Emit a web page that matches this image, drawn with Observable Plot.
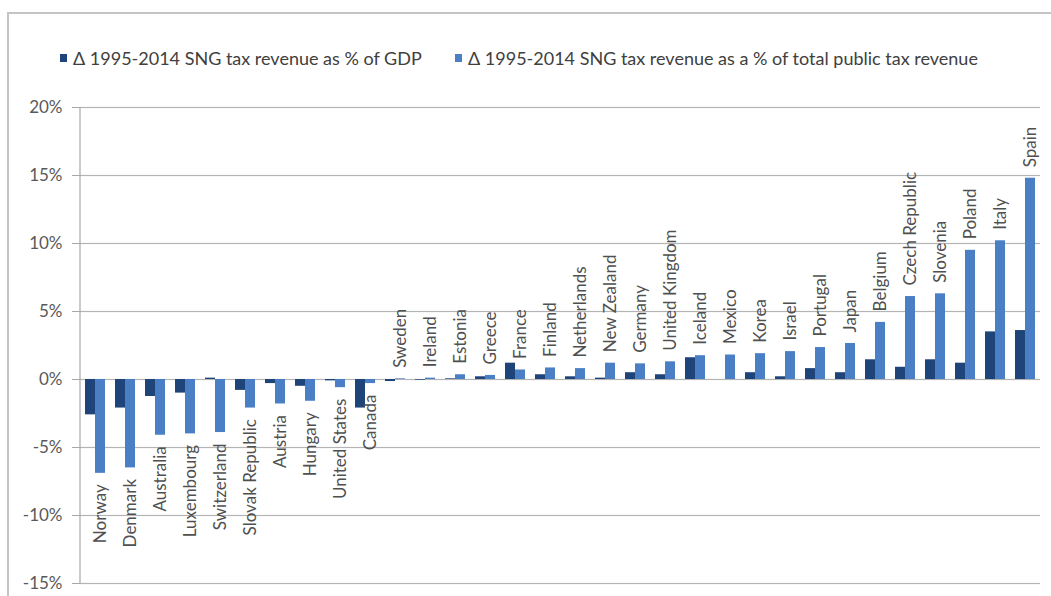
<!DOCTYPE html>
<html>
<head>
<meta charset="utf-8">
<script src="https://cdn.jsdelivr.net/npm/d3@7"></script>
<script src="https://cdn.jsdelivr.net/npm/@observablehq/plot@0.6"></script>
<style>
  html, body { margin: 0; padding: 0; background: #fff; }
  #wrap { position: relative; width: 1051px; height: 596px; overflow: hidden; font-family: Lato, "Open Sans", sans-serif; }
  #frame { position: absolute; left: 7px; top: 12px; right: -10px; bottom: -10px; border-top: 2px solid #c4c4c4; border-left: 2px solid #c4c4c4; pointer-events: none; }
  #legend { height: 80px; position: relative; }
  .item { position: absolute; top: 47px; display: flex; align-items: center; font-size: 18px; color: #404040; white-space: nowrap; }
  .sw { width: 7px; height: 8px; margin-right: 6px; display: inline-block; }
  svg { display: block; }
</style>
</head>
<body>
<div id="wrap">
  <div id="legend"></div>
  <div id="chart"></div>
  <div id="frame"></div>
</div>
<script>
const countries = ["Norway","Denmark","Australia","Luxembourg","Switzerland","Slovak Republic","Austria","Hungary","United States","Canada","Sweden","Ireland","Estonia","Greece","France","Finland","Netherlands","New Zealand","Germany","United Kingdom","Iceland","Mexico","Korea","Israel","Portugal","Japan","Belgium","Czech Republic","Slovenia","Poland","Italy","Spain"];
const gdpValues = [-2.6,-2.1,-1.25,-1.0,0.1,-0.8,-0.3,-0.5,-0.1,-2.1,-0.15,-0.05,0.05,0.2,1.2,0.35,0.2,0.1,0.5,0.35,1.6,0.0,0.5,0.2,0.8,0.5,1.45,0.9,1.45,1.2,3.5,3.6];
const pctValues = [-6.9,-6.5,-4.1,-4.0,-3.9,-2.1,-1.8,-1.6,-0.6,-0.3,0.05,0.1,0.35,0.3,0.7,0.85,0.8,1.2,1.15,1.3,1.75,1.8,1.9,2.05,2.35,2.65,4.2,6.1,6.3,9.5,10.2,14.8];
const seriesKeys = ["gdp","pct"];
const seriesNames = ["Δ 1995-2014 SNG tax revenue as % of GDP","Δ 1995-2014 SNG tax revenue as a % of total public tax revenue"];
const seriesColors = ["#1f4479","#4a7fc6"];
const yTicks = [-15,-10,-5,0,5,10,15,20];

const rows = countries.flatMap((c, i) => [
  {country: c, series: "gdp", value: gdpValues[i]},
  {country: c, series: "pct", value: pctValues[i]}
]);
const labels = countries.map((c, i) => ({country: c, value: pctValues[i]}));

// legend
const legend = document.getElementById("legend");
const legendLeft = [60, 455];
seriesNames.forEach((name, i) => {
  const it = document.createElement("div");
  it.className = "item";
  it.style.left = legendLeft[i] + "px";
  it.innerHTML = `<span class="sw" style="background:${seriesColors[i]}"></span><span>${name}</span>`;
  legend.appendChild(it);
});

const fontSize = 17;
const chart = Plot.plot({
  width: 1051,
  height: 516,
  marginLeft: 80,
  marginRight: 11,
  marginTop: 27,
  marginBottom: 13,
  style: {fontFamily: "Lato, 'Open Sans', sans-serif", background: "transparent"},
  fx: {domain: countries, padding: 0, axis: null, label: null},
  x: {domain: seriesKeys, paddingInner: 0, paddingOuter: 0.5, axis: null, label: null},
  y: {domain: [-15, 20], axis: null, label: null},
  color: {domain: seriesKeys, range: seriesColors},
  marks: [
    Plot.gridY(yTicks, {stroke: "#b4b4b4", strokeOpacity: 1, strokeWidth: 1.2}),
    Plot.axisY(yTicks, {tickSize: 8, tickPadding: 10, tickFormat: d => d + "%", label: null, stroke: "#a8a8a8", fill: "#595959", fontSize: fontSize}),
    Plot.barY(rows, {fx: "country", x: "series", y: "value", fill: "series"}),
    Plot.text(labels.filter(d => d.value >= 0), {fx: "country", x: () => "pct", y: "value", text: "country", rotate: -90, textAnchor: "start", dy: -11, fill: "#505050", fontSize: fontSize}),
    Plot.text(labels.filter(d => d.value < 0), {fx: "country", x: () => "pct", y: "value", text: "country", rotate: -90, textAnchor: "end", dy: 11, fill: "#505050", fontSize: fontSize})
  ]
});
document.getElementById("chart").appendChild(chart);

// vertical value-axis line, positioned with the plot's own y scale
const ys = chart.scale("y");
d3.select(chart).append("line")
  .attr("x1", 80).attr("x2", 80)
  .attr("y1", ys.apply(20)).attr("y2", ys.apply(-15))
  .attr("stroke", "#a8a8a8").attr("stroke-width", 1.2);
</script>
</body>
</html>
